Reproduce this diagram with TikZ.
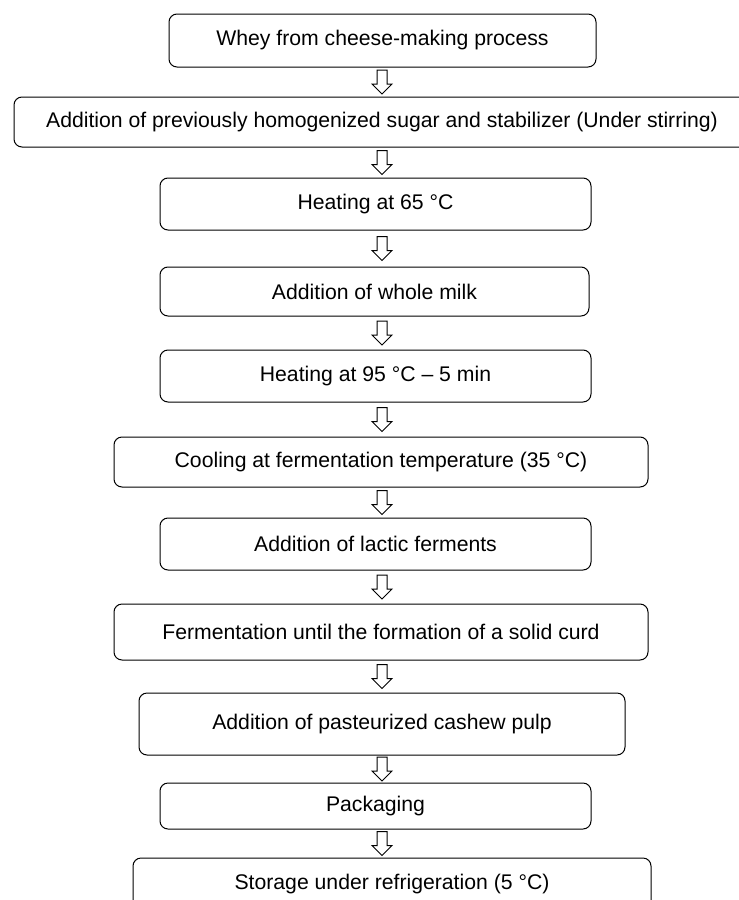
\documentclass[tikz,border=0pt]{standalone}
\usepackage{fontspec}
\setmainfont{Liberation Sans}
\usetikzlibrary{calc}

\tikzset{
  procbox/.style={draw,line width=1pt,rounded corners=8pt,inner sep=0pt,
    font=\fontsize{21.2}{25}\selectfont},
  blockarrow/.style={draw,line width=1pt,line join=miter,
    to path={let \p1=($(\tikztostart)!.5!(\tikztotarget)$) in
      (\x1-5pt,\y1+12pt) -- (\x1+5pt,\y1+12pt) -- (\x1+5pt,\y1-2pt) -- (\x1+10pt,\y1-2pt)
      -- (\x1,\y1-12pt) -- (\x1-10pt,\y1-2pt) -- (\x1-5pt,\y1-2pt) -- cycle}}
}

\begin{document}
\begin{tikzpicture}[x=1pt,y=-1pt,line cap=round,line join=round]
  \useasboundingbox (0,0) rectangle (739,900);
  \coordinate (ax) at (382,0);
  \node[procbox,minimum width=427,minimum height=53] (whey) at (382.5,40.5) {Whey from cheese-making process};
  \node[procbox,minimum width=736,minimum height=50] (sugar) at (382,122) {Addition of previously homogenized sugar and stabilizer (Under stirring)};
  \node[procbox,minimum width=431,minimum height=52] (heatA) at (375.5,204) {Heating at 65 °C};
  \node[procbox,minimum width=429,minimum height=49] (milk) at (374.5,291.5) {Addition of whole milk};
  \node[procbox,minimum width=431,minimum height=52] (heatB) at (375.5,376) {Heating at 95 °C – 5 min};
  \node[procbox,minimum width=534,minimum height=50] (cool) at (381,462) {Cooling at fermentation temperature (35 °C)};
  \node[procbox,minimum width=431,minimum height=52] (lactic) at (375.5,544) {Addition of lactic ferments};
  \node[procbox,minimum width=534,minimum height=56] (ferm) at (381,632) {Fermentation until the formation of a solid curd};
  \node[procbox,minimum width=486,minimum height=62] (cashew) at (382,724) {Addition of pasteurized cashew pulp};
  \node[procbox,minimum width=431,minimum height=46] (pack) at (375.5,806) {Packaging};
  \node[procbox,minimum width=518,minimum height=52] (store) at (392,884) {Storage under refrigeration (5 °C)};
  % hollow arrows between the steps
  \draw[blockarrow] (whey.south -| ax) to (sugar.north -| ax);
  \draw[blockarrow] (sugar.south -| ax) to (heatA.north -| ax);
  \draw[blockarrow] (heatA.south -| ax) to (milk.north -| ax);
  \draw[blockarrow] (milk.south -| ax) to (heatB.north -| ax);
  \draw[blockarrow] (heatB.south -| ax) to (cool.north -| ax);
  \draw[blockarrow] (cool.south -| ax) to (lactic.north -| ax);
  \draw[blockarrow] (lactic.south -| ax) to (ferm.north -| ax);
  \draw[blockarrow] (ferm.south -| ax) to (cashew.north -| ax);
  \draw[blockarrow] (cashew.south -| ax) to (pack.north -| ax);
  \draw[blockarrow] (pack.south -| ax) to (store.north -| ax);
\end{tikzpicture}
\end{document}
